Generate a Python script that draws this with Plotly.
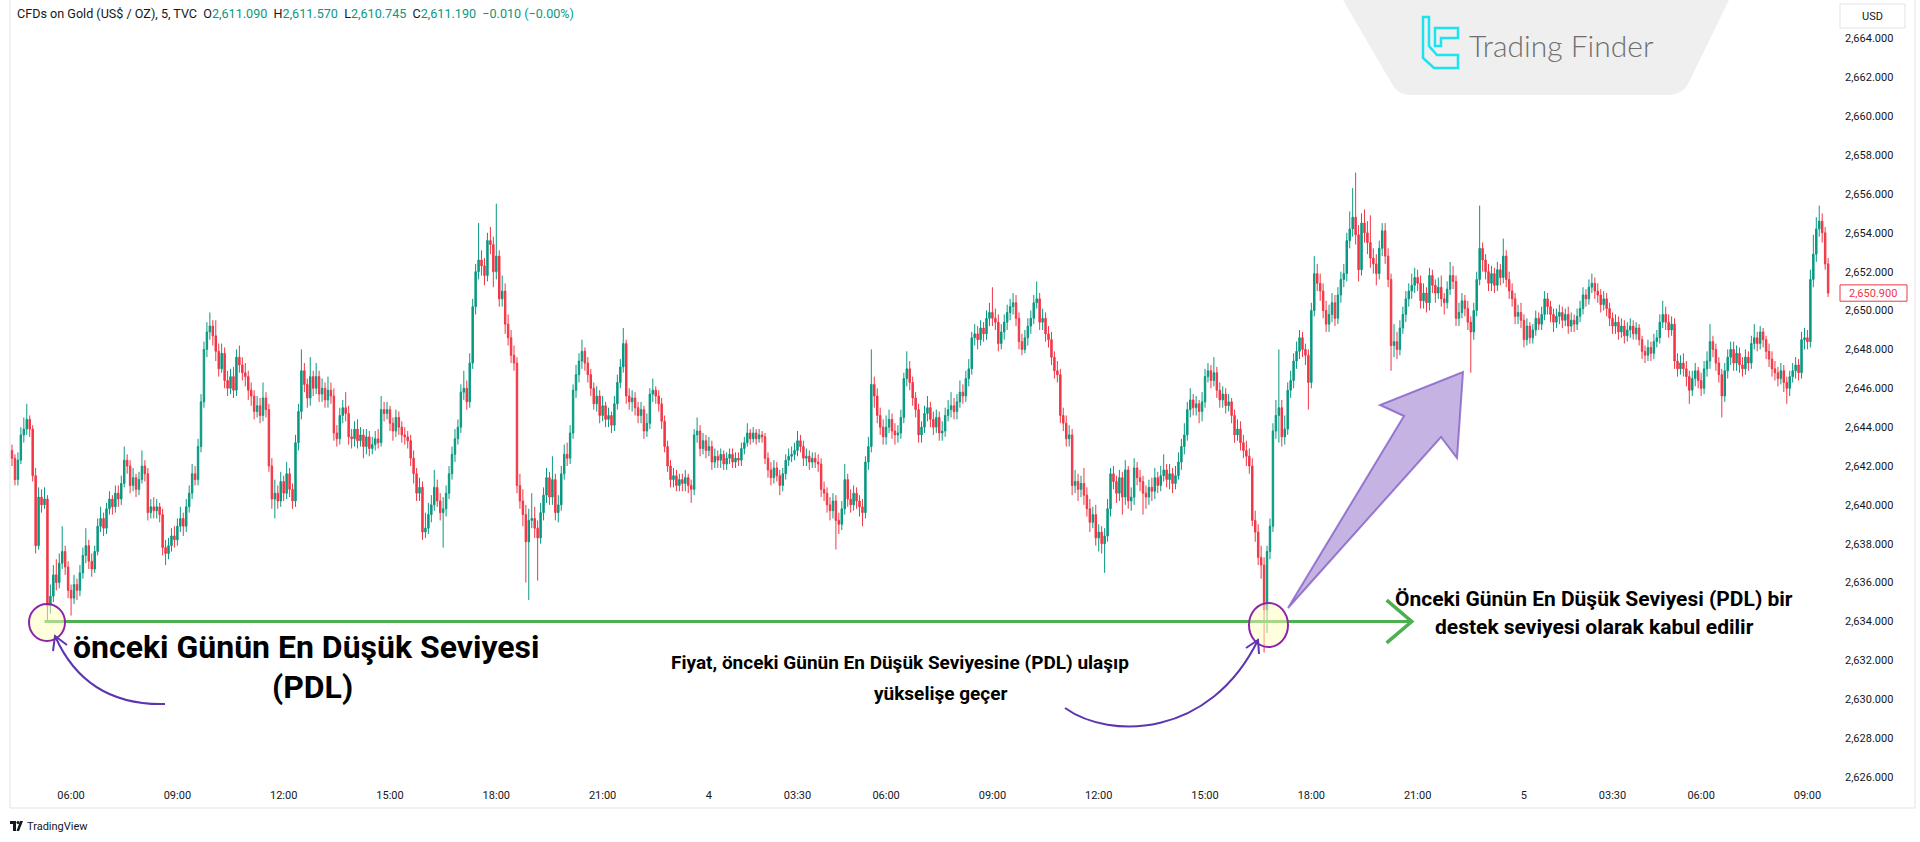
import plotly.graph_objects as go
import pandas as pd

# ---------------- data ----------------
# 5-minute sessions (daily break 01:00-02:00)
session_bounds = [("2024-12-03 04:20", "2024-12-04 00:55"),
                  ("2024-12-04 02:00", "2024-12-05 00:55"),
                  ("2024-12-05 02:00", "2024-12-05 09:35")]

opens = [
 2642.8, 2642.4, 2641.3, 2642.3, 2643.6, 2643.9, 2644.4, 2643.9, 2641.5, 2637.9, 2640.4, 2640.0,
 2640.3, 2634.8, 2635.3, 2636.4, 2636.0, 2637.0, 2637.6, 2636.8, 2635.6, 2635.2, 2635.9, 2635.6,
 2636.5, 2637.4, 2637.9, 2637.1, 2636.7, 2637.6, 2638.9, 2639.3, 2638.8, 2639.8, 2640.3, 2639.9,
 2640.6, 2640.3, 2641.1, 2642.3, 2642.0, 2641.0, 2641.4, 2640.8, 2641.3, 2642.0, 2641.6, 2639.6,
 2639.9, 2639.7, 2639.9, 2639.5, 2637.8, 2637.5, 2637.9, 2638.4, 2638.2, 2638.9, 2639.3, 2638.9,
 2639.9, 2640.6, 2641.6, 2641.3, 2643.0, 2645.3, 2648.0, 2648.9, 2649.2, 2648.7, 2647.9, 2647.0,
 2647.8, 2646.4, 2646.0, 2646.6, 2645.9, 2647.6, 2647.2, 2646.8, 2646.6, 2645.9, 2645.6, 2644.8,
 2645.1, 2644.6, 2645.5, 2644.9, 2642.0, 2640.3, 2640.6, 2640.2, 2641.2, 2640.6, 2641.6, 2640.8,
 2640.2, 2643.2, 2644.8, 2646.9, 2646.2, 2645.5, 2646.6, 2646.0, 2646.6, 2645.7, 2646.0, 2645.4,
 2645.9, 2645.6, 2643.7, 2643.4, 2644.6, 2645.0, 2644.7, 2643.5, 2643.4, 2643.9, 2643.3, 2643.6,
 2643.0, 2643.5, 2642.9, 2643.1, 2643.4, 2643.2, 2644.9, 2644.7, 2644.9, 2644.2, 2643.8, 2644.5,
 2644.0, 2643.6, 2643.5, 2643.3, 2642.4, 2641.6, 2640.6, 2640.9, 2638.6, 2638.8, 2639.5, 2640.0,
 2640.9, 2640.2, 2639.6, 2639.8, 2640.6, 2641.6, 2642.6, 2643.4, 2644.0, 2645.8, 2646.0, 2645.3,
 2647.3, 2650.2, 2652.0, 2652.6, 2652.3, 2651.8, 2653.6, 2653.4, 2652.0, 2652.8, 2650.6, 2651.0,
 2649.3, 2648.6, 2647.7, 2647.3, 2641.0, 2640.2, 2639.5, 2638.1, 2639.2, 2639.3, 2638.8, 2638.3,
 2639.6, 2640.5, 2641.4, 2640.4, 2641.3, 2639.6, 2640.0, 2641.6, 2642.6, 2642.4, 2643.7, 2645.9,
 2646.7, 2647.4, 2647.9, 2647.3, 2646.7, 2646.0, 2645.2, 2645.6, 2644.6, 2645.1, 2644.4, 2644.6,
 2644.1, 2645.2, 2646.3, 2647.1, 2648.3, 2645.6, 2645.3, 2645.5, 2645.0, 2644.6, 2644.9, 2643.8,
 2644.2, 2645.7, 2645.9, 2645.6, 2645.2, 2644.3, 2643.0, 2642.0, 2641.3, 2641.5, 2641.0, 2641.3,
 2641.1, 2641.4, 2641.0, 2640.8, 2643.6, 2643.8, 2642.9, 2643.3, 2642.8, 2643.0, 2642.2, 2642.5,
 2642.3, 2642.6, 2642.1, 2642.4, 2642.6, 2642.2, 2642.4, 2642.3,
 2642.9, 2643.2, 2643.7, 2643.4, 2643.7, 2643.4, 2643.6, 2643.5, 2642.4, 2641.8, 2641.4, 2641.9,
 2641.5, 2641.0, 2641.6, 2642.3, 2642.5, 2642.6, 2642.8, 2643.3, 2643.0, 2642.4, 2642.5, 2642.2,
 2642.4, 2642.2, 2642.1, 2640.8, 2640.6, 2640.0, 2639.7, 2640.2, 2639.2, 2639.0, 2639.8, 2641.3,
 2640.3, 2640.0, 2640.6, 2640.2, 2639.9, 2639.6, 2642.2, 2643.0, 2646.2, 2645.6, 2644.6, 2644.0,
 2643.5, 2644.0, 2644.4, 2643.8, 2643.6, 2643.7, 2644.5, 2646.5, 2647.0, 2646.3, 2645.5, 2644.9,
 2643.6, 2644.0, 2644.7, 2645.0, 2644.4, 2644.0, 2644.5, 2643.7, 2643.8, 2644.6, 2644.9, 2645.1,
 2644.8, 2645.3, 2645.8, 2645.6, 2646.5, 2647.0, 2648.6, 2648.8, 2648.5, 2649.1, 2648.8, 2649.6,
 2649.9, 2649.6, 2649.4, 2648.3, 2648.9, 2649.4, 2649.9, 2650.2, 2650.4, 2649.6, 2648.4, 2648.0,
 2648.6, 2649.2, 2649.6, 2650.4, 2650.6, 2649.4, 2649.6, 2648.8, 2648.5, 2647.6, 2646.9, 2646.7,
 2644.6, 2644.2, 2643.4, 2643.6, 2641.0, 2641.2, 2640.8, 2641.1, 2640.5, 2639.8, 2639.1, 2639.5,
 2638.3, 2638.6, 2638.0, 2638.4, 2639.8, 2641.6, 2641.2, 2640.6, 2641.4, 2640.4, 2641.8, 2640.2,
 2640.4, 2641.9, 2641.4, 2641.2, 2640.6, 2640.4, 2640.9, 2640.7, 2641.4, 2641.0, 2641.5, 2641.8,
 2641.3, 2641.6, 2641.1, 2641.5, 2642.2, 2643.0, 2643.6, 2644.9, 2645.4, 2645.0, 2645.2, 2644.8,
 2645.3, 2646.6, 2646.9, 2646.4, 2646.8, 2645.9, 2645.4, 2645.7, 2645.1, 2645.3, 2644.6, 2643.6,
 2643.9, 2643.2, 2642.8, 2642.5, 2642.0, 2639.2, 2638.6, 2637.3, 2636.9, 2634.6, 2637.6, 2638.9,
 2643.8, 2644.6, 2645.0, 2643.5, 2643.9, 2645.9, 2646.4, 2647.4, 2647.9, 2648.6, 2648.0, 2647.7,
 2646.3, 2650.0, 2651.9, 2651.4, 2651.0, 2650.0, 2649.3, 2649.8, 2650.4, 2649.6, 2650.8, 2651.6,
 2651.9, 2653.6, 2654.2, 2654.8, 2653.9, 2652.1, 2654.5, 2654.0, 2653.5, 2652.7, 2652.4, 2651.9,
 2653.2, 2654.1, 2652.8, 2651.6, 2648.2, 2648.4, 2648.0, 2649.1, 2649.8, 2650.6, 2651.0, 2651.3,
 2651.7, 2651.4, 2650.5, 2650.9, 2650.4, 2651.8, 2651.3, 2650.9, 2651.2, 2650.6, 2650.4, 2651.1,
 2651.8, 2651.5, 2649.6, 2649.9, 2650.5, 2650.1, 2649.4, 2648.9, 2650.0, 2651.6, 2653.2, 2652.6,
 2652.0, 2651.4, 2651.9, 2651.3, 2652.1, 2651.7, 2652.8, 2651.6, 2651.0, 2650.6, 2649.7, 2649.9,
 2649.5, 2648.5, 2649.2, 2648.6, 2649.0, 2649.6, 2649.3, 2649.8, 2650.6, 2650.2, 2649.8, 2649.4,
 2649.7, 2649.9, 2649.5, 2649.8, 2649.2, 2649.5, 2649.3, 2649.7, 2650.1, 2650.8, 2650.6, 2651.2,
 2651.4, 2651.0, 2650.8, 2650.3, 2650.6, 2650.1, 2649.6, 2649.2, 2649.4, 2648.9, 2649.2, 2648.7,
 2649.0, 2649.2, 2648.8, 2649.1, 2648.5, 2647.9, 2647.7, 2648.1, 2647.8, 2648.4, 2648.6, 2649.4,
 2649.8, 2649.4, 2649.0, 2649.3, 2647.4, 2647.0, 2647.3, 2647.0, 2646.6, 2645.9, 2646.5, 2646.9,
 2646.4, 2646.0, 2647.0, 2647.4, 2648.4, 2648.0, 2647.3, 2646.7, 2645.6, 2646.9, 2647.6, 2648.0,
 2647.3, 2647.8, 2647.2, 2647.0, 2647.6, 2647.3, 2648.3, 2648.6, 2648.3, 2648.9, 2648.5, 2647.9,
 2647.5, 2647.0, 2646.8, 2646.5, 2646.9, 2646.3, 2646.0, 2646.6, 2646.9, 2647.2, 2646.8, 2648.5,
 2648.6, 2648.4, 2651.6, 2652.9, 2654.2, 2654.6, 2654.0, 2652.4,
]

highs = [
 2643.1, 2642.6, 2642.7, 2644.0, 2644.5, 2645.2, 2644.6, 2644.1, 2641.9, 2640.9, 2640.8, 2640.9,
 2640.5, 2635.9, 2636.9, 2637.2, 2637.5, 2638.9, 2637.9, 2637.1, 2635.9, 2636.4, 2636.2, 2636.9,
 2637.8, 2638.8, 2638.2, 2637.5, 2637.9, 2639.3, 2639.9, 2639.6, 2640.1, 2640.7, 2640.5, 2641.0,
 2641.0, 2641.5, 2643.0, 2642.6, 2642.3, 2641.9, 2641.6, 2641.7, 2642.8, 2642.3, 2641.9, 2640.3,
 2640.4, 2640.3, 2640.1, 2639.8, 2638.2, 2638.3, 2638.8, 2638.9, 2639.3, 2639.9, 2639.6, 2640.3,
 2641.0, 2642.1, 2642.0, 2643.4, 2645.7, 2648.4, 2649.4, 2649.9, 2649.5, 2649.5, 2648.3, 2648.3,
 2648.1, 2646.9, 2647.0, 2647.1, 2648.0, 2648.2, 2647.6, 2647.3, 2646.9, 2646.3, 2645.9, 2645.6,
 2645.5, 2646.3, 2645.8, 2645.2, 2642.4, 2641.3, 2641.0, 2641.7, 2641.5, 2642.2, 2641.9, 2641.1,
 2643.6, 2645.2, 2648.0, 2647.3, 2646.5, 2647.6, 2646.9, 2647.3, 2646.9, 2646.5, 2646.3, 2646.6,
 2646.3, 2646.0, 2644.1, 2645.0, 2645.4, 2645.8, 2645.1, 2643.9, 2644.3, 2644.4, 2644.0, 2643.9,
 2643.9, 2643.8, 2643.5, 2643.8, 2643.9, 2645.6, 2645.3, 2645.3, 2645.1, 2644.5, 2644.9, 2644.8,
 2644.3, 2644.0, 2643.8, 2643.6, 2642.8, 2641.9, 2641.4, 2641.2, 2639.6, 2640.1, 2640.5, 2641.8,
 2641.3, 2640.6, 2640.4, 2641.0, 2642.0, 2643.0, 2643.9, 2644.4, 2646.2, 2646.9, 2646.4, 2647.8,
 2650.6, 2652.4, 2654.5, 2653.1, 2652.7, 2654.0, 2654.3, 2653.8, 2655.5, 2653.1, 2651.8, 2651.4,
 2649.8, 2649.0, 2648.2, 2647.6, 2641.6, 2640.8, 2640.0, 2639.8, 2640.6, 2639.9, 2639.2, 2640.1,
 2640.9, 2641.9, 2641.7, 2642.5, 2641.6, 2640.5, 2642.0, 2643.1, 2643.2, 2644.1, 2646.2, 2647.2,
 2647.8, 2648.5, 2648.1, 2647.6, 2647.0, 2646.3, 2646.1, 2645.9, 2645.6, 2645.3, 2645.0, 2644.8,
 2645.6, 2646.7, 2647.5, 2649.1, 2648.5, 2646.0, 2645.9, 2645.8, 2645.3, 2645.3, 2645.1, 2644.7,
 2646.0, 2646.5, 2646.1, 2645.9, 2645.5, 2644.6, 2643.3, 2642.3, 2641.9, 2641.8, 2641.6, 2641.6,
 2641.8, 2641.6, 2641.3, 2643.9, 2644.5, 2644.1, 2643.7, 2643.6, 2643.5, 2643.3, 2642.9, 2642.8,
 2642.9, 2642.8, 2642.7, 2642.9, 2642.9, 2642.7, 2642.7, 2643.2,
 2643.5, 2644.2, 2643.9, 2644.0, 2643.9, 2643.9, 2643.8, 2643.7, 2642.7, 2642.2, 2642.3, 2642.2,
 2641.8, 2641.9, 2642.6, 2642.9, 2643.0, 2643.2, 2643.8, 2643.6, 2643.3, 2642.9, 2642.8, 2642.7,
 2642.7, 2642.6, 2642.4, 2641.2, 2640.9, 2640.4, 2640.6, 2640.5, 2639.6, 2640.2, 2642.1, 2641.6,
 2640.8, 2641.0, 2640.9, 2640.5, 2640.3, 2642.5, 2643.5, 2648.0, 2646.6, 2646.0, 2645.0, 2644.4,
 2644.6, 2644.9, 2644.7, 2644.2, 2644.1, 2644.9, 2646.8, 2647.9, 2647.4, 2646.6, 2645.8, 2645.2,
 2644.3, 2645.1, 2645.6, 2645.3, 2644.8, 2644.9, 2644.8, 2644.3, 2645.0, 2645.4, 2645.8, 2645.5,
 2645.7, 2646.4, 2646.2, 2646.9, 2647.5, 2648.9, 2649.3, 2649.2, 2649.5, 2649.4, 2650.0, 2650.4,
 2651.2, 2650.1, 2649.8, 2649.3, 2649.8, 2650.3, 2650.6, 2650.9, 2650.8, 2649.9, 2648.8, 2649.0,
 2649.6, 2650.0, 2650.8, 2651.5, 2650.9, 2650.1, 2649.9, 2649.2, 2648.9, 2647.9, 2647.4, 2647.0,
 2645.0, 2644.6, 2644.1, 2643.9, 2641.8, 2641.6, 2641.5, 2641.9, 2640.9, 2640.3, 2639.9, 2640.0,
 2639.0, 2638.9, 2638.8, 2640.3, 2641.9, 2642.0, 2641.5, 2641.8, 2641.7, 2642.3, 2642.0, 2640.9,
 2642.4, 2642.2, 2641.8, 2641.5, 2641.0, 2641.3, 2641.4, 2641.9, 2641.7, 2642.0, 2642.6, 2642.1,
 2642.1, 2641.9, 2642.0, 2642.7, 2643.4, 2644.2, 2645.3, 2646.0, 2645.7, 2645.6, 2645.4, 2645.8,
 2647.0, 2647.3, 2647.2, 2647.6, 2647.1, 2646.3, 2646.1, 2646.0, 2645.7, 2645.5, 2644.9, 2644.4,
 2644.3, 2643.6, 2643.3, 2642.9, 2642.4, 2639.7, 2639.0, 2637.9, 2637.3, 2637.9, 2639.3, 2644.2,
 2645.4, 2648.0, 2645.4, 2644.6, 2646.3, 2646.9, 2647.8, 2648.4, 2649.0, 2648.9, 2648.3, 2648.0,
 2650.4, 2652.8, 2652.4, 2651.9, 2651.4, 2650.5, 2650.3, 2650.9, 2650.8, 2651.2, 2652.0, 2652.4,
 2654.0, 2655.1, 2656.3, 2657.1, 2654.4, 2655.0, 2655.2, 2654.6, 2654.9, 2653.2, 2652.9, 2653.6,
 2654.5, 2654.5, 2653.2, 2651.9, 2649.3, 2648.9, 2649.5, 2650.2, 2651.0, 2651.4, 2651.9, 2652.2,
 2652.1, 2651.8, 2651.4, 2651.2, 2652.2, 2652.1, 2651.6, 2651.7, 2651.8, 2650.9, 2651.5, 2652.5,
 2652.3, 2651.8, 2650.4, 2650.9, 2650.8, 2650.5, 2649.7, 2650.4, 2652.0, 2655.4, 2653.5, 2652.9,
 2652.4, 2652.3, 2652.2, 2652.5, 2652.4, 2653.7, 2653.1, 2652.0, 2651.4, 2650.9, 2650.3, 2650.4,
 2649.8, 2649.6, 2649.4, 2649.3, 2650.0, 2649.9, 2650.2, 2651.0, 2650.9, 2650.5, 2650.1, 2650.1,
 2650.3, 2650.2, 2650.1, 2650.2, 2649.9, 2649.8, 2650.1, 2650.5, 2651.2, 2651.1, 2651.6, 2651.9,
 2651.7, 2651.4, 2651.1, 2651.0, 2650.9, 2650.4, 2649.9, 2649.8, 2649.7, 2649.6, 2649.5, 2649.4,
 2649.6, 2649.5, 2649.4, 2649.3, 2648.7, 2648.2, 2648.5, 2648.4, 2648.8, 2649.0, 2649.8, 2650.5,
 2650.2, 2649.8, 2649.7, 2649.6, 2647.8, 2647.7, 2647.8, 2647.4, 2646.9, 2646.9, 2647.3, 2647.1,
 2646.8, 2647.4, 2647.9, 2649.3, 2648.7, 2648.3, 2647.6, 2647.0, 2647.3, 2648.0, 2648.4, 2648.4,
 2648.2, 2648.1, 2647.6, 2648.0, 2647.9, 2648.7, 2649.3, 2648.9, 2649.2, 2649.1, 2648.7, 2648.3,
 2647.9, 2647.4, 2647.1, 2647.3, 2647.2, 2646.6, 2646.9, 2647.3, 2647.6, 2647.5, 2648.9, 2649.1,
 2649.0, 2652.1, 2653.9, 2654.8, 2655.4, 2655.0, 2654.3, 2652.7,
]

lows = [
 2642.0, 2641.0, 2641.0, 2642.1, 2643.2, 2643.6, 2643.5, 2641.2, 2637.5, 2637.7, 2639.6, 2639.8,
 2634.0, 2634.4, 2635.0, 2635.6, 2635.7, 2636.7, 2636.4, 2635.2, 2634.3, 2634.9, 2635.1, 2635.3,
 2636.2, 2637.0, 2636.7, 2636.3, 2636.5, 2637.4, 2638.6, 2638.4, 2638.5, 2639.5, 2639.5, 2639.6,
 2639.9, 2640.0, 2640.9, 2641.6, 2640.6, 2640.7, 2640.4, 2640.5, 2641.1, 2641.2, 2639.2, 2639.3,
 2639.3, 2639.3, 2639.1, 2637.4, 2636.9, 2637.2, 2637.6, 2637.8, 2637.9, 2638.6, 2638.4, 2638.6,
 2639.6, 2640.3, 2641.0, 2641.0, 2642.7, 2645.0, 2647.6, 2648.5, 2648.2, 2647.4, 2646.6, 2646.8,
 2646.0, 2645.6, 2645.7, 2645.5, 2645.6, 2646.8, 2646.4, 2646.1, 2645.4, 2645.1, 2644.4, 2644.5,
 2644.2, 2644.3, 2644.5, 2641.7, 2639.8, 2639.3, 2639.8, 2639.9, 2640.2, 2640.3, 2640.4, 2639.8,
 2639.9, 2642.8, 2644.4, 2645.8, 2645.0, 2645.1, 2645.6, 2645.7, 2645.3, 2645.3, 2645.0, 2645.0,
 2645.2, 2643.3, 2643.0, 2643.1, 2644.2, 2644.3, 2643.1, 2642.9, 2643.0, 2642.9, 2643.0, 2642.4,
 2642.6, 2642.5, 2642.6, 2642.8, 2642.9, 2643.0, 2644.3, 2644.4, 2643.8, 2643.3, 2643.5, 2643.6,
 2643.2, 2643.1, 2642.9, 2642.0, 2641.1, 2640.2, 2640.2, 2638.2, 2638.3, 2638.5, 2639.1, 2639.7,
 2639.9, 2639.2, 2637.8, 2639.4, 2640.3, 2641.3, 2642.2, 2643.1, 2643.7, 2645.4, 2644.9, 2645.0,
 2647.0, 2649.8, 2651.6, 2651.8, 2651.3, 2651.5, 2652.9, 2651.2, 2651.6, 2650.2, 2650.2, 2648.8,
 2648.2, 2647.3, 2646.9, 2640.6, 2639.8, 2638.9, 2636.0, 2635.1, 2638.8, 2638.3, 2636.1, 2638.0,
 2639.2, 2640.1, 2640.0, 2640.0, 2639.2, 2639.1, 2639.7, 2641.3, 2642.0, 2642.1, 2643.4, 2645.5,
 2646.3, 2647.0, 2646.9, 2646.3, 2645.6, 2644.9, 2644.8, 2644.2, 2644.3, 2644.0, 2644.0, 2643.7,
 2643.8, 2644.9, 2646.0, 2646.8, 2645.2, 2644.9, 2644.8, 2644.6, 2644.2, 2644.2, 2643.4, 2643.5,
 2643.9, 2645.3, 2645.2, 2644.8, 2643.9, 2642.7, 2641.7, 2640.9, 2640.9, 2640.7, 2640.7, 2640.7,
 2640.7, 2640.6, 2640.1, 2640.5, 2643.2, 2642.5, 2642.6, 2642.4, 2642.5, 2641.8, 2641.9, 2641.9,
 2641.9, 2641.8, 2641.8, 2642.1, 2641.9, 2641.9, 2642.0, 2642.0,
 2642.6, 2643.0, 2643.1, 2643.2, 2643.1, 2643.2, 2643.2, 2642.1, 2641.4, 2641.0, 2641.1, 2641.2,
 2640.5, 2640.7, 2641.3, 2642.0, 2642.2, 2642.3, 2642.5, 2642.7, 2642.0, 2642.0, 2641.8, 2641.9,
 2641.9, 2641.7, 2640.4, 2640.2, 2639.6, 2639.2, 2639.3, 2637.7, 2638.5, 2638.7, 2639.5, 2639.9,
 2639.6, 2639.7, 2639.8, 2639.4, 2638.9, 2639.3, 2641.8, 2642.7, 2645.0, 2644.2, 2643.6, 2643.1,
 2643.1, 2643.7, 2643.4, 2643.1, 2643.2, 2643.4, 2644.2, 2646.1, 2645.9, 2645.1, 2644.5, 2643.2,
 2643.2, 2643.7, 2644.3, 2644.0, 2643.6, 2643.7, 2643.3, 2643.3, 2643.5, 2644.3, 2644.5, 2644.4,
 2644.4, 2645.0, 2645.2, 2645.3, 2646.1, 2646.7, 2648.2, 2648.0, 2648.2, 2648.4, 2648.5, 2649.2,
 2649.2, 2649.0, 2647.9, 2648.0, 2648.5, 2649.0, 2649.5, 2649.8, 2649.2, 2648.0, 2647.7, 2647.8,
 2648.2, 2648.8, 2649.3, 2650.1, 2649.0, 2649.0, 2648.4, 2648.1, 2647.2, 2646.5, 2646.3, 2644.2,
 2643.8, 2643.0, 2643.0, 2640.5, 2640.6, 2640.2, 2640.4, 2640.0, 2639.4, 2638.6, 2638.8, 2637.9,
 2637.6, 2637.5, 2636.5, 2638.1, 2639.4, 2640.8, 2640.1, 2640.2, 2639.5, 2640.0, 2639.8, 2639.7,
 2640.0, 2641.0, 2640.7, 2639.5, 2639.8, 2640.0, 2640.2, 2640.3, 2640.6, 2640.7, 2641.2, 2640.9,
 2640.8, 2640.6, 2640.8, 2641.3, 2641.8, 2642.6, 2643.3, 2644.5, 2644.6, 2644.6, 2644.2, 2644.3,
 2645.0, 2646.3, 2646.0, 2646.1, 2645.5, 2645.0, 2645.0, 2644.7, 2644.8, 2644.2, 2643.2, 2643.3,
 2642.8, 2642.4, 2642.0, 2641.6, 2638.9, 2638.1, 2636.9, 2636.2, 2632.4, 2633.4, 2637.2, 2638.6,
 2643.4, 2643.2, 2643.0, 2643.1, 2643.6, 2645.5, 2646.0, 2647.0, 2647.5, 2647.6, 2647.2, 2644.9,
 2646.0, 2649.7, 2651.0, 2650.5, 2649.6, 2648.9, 2648.9, 2649.4, 2649.2, 2649.3, 2650.4, 2651.2,
 2651.5, 2653.2, 2653.8, 2653.4, 2651.5, 2651.8, 2653.5, 2652.9, 2652.2, 2651.9, 2651.3, 2651.6,
 2652.8, 2652.4, 2651.2, 2646.9, 2647.6, 2647.5, 2647.7, 2648.8, 2649.4, 2650.2, 2650.6, 2650.9,
 2651.0, 2650.1, 2650.1, 2649.9, 2650.0, 2650.9, 2650.4, 2650.6, 2650.2, 2649.8, 2650.1, 2650.8,
 2651.1, 2649.2, 2649.2, 2649.6, 2649.7, 2649.0, 2646.8, 2648.5, 2649.7, 2651.3, 2652.0, 2651.6,
 2651.0, 2651.0, 2650.9, 2651.0, 2651.3, 2651.4, 2651.2, 2650.6, 2650.2, 2649.3, 2649.3, 2649.1,
 2648.1, 2648.2, 2648.3, 2648.3, 2648.7, 2649.0, 2649.0, 2649.5, 2649.8, 2649.4, 2648.9, 2649.1,
 2649.3, 2649.1, 2649.2, 2648.8, 2648.9, 2648.9, 2649.0, 2649.4, 2649.8, 2650.2, 2650.3, 2650.9,
 2650.6, 2650.4, 2649.9, 2650.0, 2649.7, 2649.2, 2648.8, 2648.8, 2648.5, 2648.6, 2648.3, 2648.4,
 2648.6, 2648.5, 2648.5, 2648.2, 2647.5, 2647.3, 2647.4, 2647.4, 2647.5, 2648.1, 2648.3, 2649.1,
 2649.0, 2648.6, 2648.7, 2647.0, 2646.6, 2646.7, 2646.6, 2646.1, 2645.2, 2645.6, 2646.1, 2646.0,
 2645.6, 2645.7, 2646.6, 2647.0, 2647.6, 2646.9, 2646.3, 2644.5, 2645.3, 2646.5, 2647.2, 2646.9,
 2646.9, 2646.8, 2646.6, 2646.7, 2646.9, 2647.0, 2648.0, 2647.9, 2648.0, 2648.1, 2647.5, 2647.1,
 2646.6, 2646.4, 2646.1, 2646.2, 2645.8, 2645.2, 2645.6, 2646.3, 2646.5, 2646.4, 2646.5, 2648.0,
 2648.0, 2648.1, 2651.2, 2652.5, 2653.8, 2653.5, 2652.1, 2650.7,
]

closes = [
 2642.4, 2641.3, 2642.3, 2643.6, 2643.9, 2644.4, 2643.9, 2641.5, 2637.9, 2640.4, 2640.0, 2640.3,
 2634.8, 2635.3, 2636.4, 2636.0, 2637.0, 2637.6, 2636.8, 2635.6, 2635.2, 2635.9, 2635.6, 2636.5,
 2637.4, 2637.9, 2637.1, 2636.7, 2637.6, 2638.9, 2639.3, 2638.8, 2639.8, 2640.3, 2639.9, 2640.6,
 2640.3, 2641.1, 2642.3, 2642.0, 2641.0, 2641.4, 2640.8, 2641.3, 2642.0, 2641.6, 2639.6, 2639.9,
 2639.7, 2639.9, 2639.5, 2637.8, 2637.5, 2637.9, 2638.4, 2638.2, 2638.9, 2639.3, 2638.9, 2639.9,
 2640.6, 2641.6, 2641.3, 2643.0, 2645.3, 2648.0, 2648.9, 2649.2, 2648.7, 2647.9, 2647.0, 2647.8,
 2646.4, 2646.0, 2646.6, 2645.9, 2647.6, 2647.2, 2646.8, 2646.6, 2645.9, 2645.6, 2644.8, 2645.1,
 2644.6, 2645.5, 2644.9, 2642.0, 2640.3, 2640.6, 2640.2, 2641.2, 2640.6, 2641.6, 2640.8, 2640.2,
 2643.2, 2644.8, 2646.9, 2646.2, 2645.5, 2646.6, 2646.0, 2646.6, 2645.7, 2646.0, 2645.4, 2645.9,
 2645.6, 2643.7, 2643.4, 2644.6, 2645.0, 2644.7, 2643.5, 2643.4, 2643.9, 2643.3, 2643.6, 2643.0,
 2643.5, 2642.9, 2643.1, 2643.4, 2643.2, 2644.9, 2644.7, 2644.9, 2644.2, 2643.8, 2644.5, 2644.0,
 2643.6, 2643.5, 2643.3, 2642.4, 2641.6, 2640.6, 2640.9, 2638.6, 2638.8, 2639.5, 2640.0, 2640.9,
 2640.2, 2639.6, 2639.8, 2640.6, 2641.6, 2642.6, 2643.4, 2644.0, 2645.8, 2646.0, 2645.3, 2647.3,
 2650.2, 2652.0, 2652.6, 2652.3, 2651.8, 2653.6, 2653.4, 2652.0, 2652.8, 2650.6, 2651.0, 2649.3,
 2648.6, 2647.7, 2647.3, 2641.0, 2640.2, 2639.5, 2638.1, 2639.2, 2639.3, 2638.8, 2638.3, 2639.6,
 2640.5, 2641.4, 2640.4, 2641.3, 2639.6, 2640.0, 2641.6, 2642.6, 2642.4, 2643.7, 2645.9, 2646.7,
 2647.4, 2647.9, 2647.3, 2646.7, 2646.0, 2645.2, 2645.6, 2644.6, 2645.1, 2644.4, 2644.6, 2644.1,
 2645.2, 2646.3, 2647.1, 2648.3, 2645.6, 2645.3, 2645.5, 2645.0, 2644.6, 2644.9, 2643.8, 2644.2,
 2645.7, 2645.9, 2645.6, 2645.2, 2644.3, 2643.0, 2642.0, 2641.3, 2641.5, 2641.0, 2641.3, 2641.1,
 2641.4, 2641.0, 2640.8, 2643.6, 2643.8, 2642.9, 2643.3, 2642.8, 2643.0, 2642.2, 2642.5, 2642.3,
 2642.6, 2642.1, 2642.4, 2642.6, 2642.2, 2642.4, 2642.3, 2642.9,
 2643.2, 2643.7, 2643.4, 2643.7, 2643.4, 2643.6, 2643.5, 2642.4, 2641.8, 2641.4, 2641.9, 2641.5,
 2641.0, 2641.6, 2642.3, 2642.5, 2642.6, 2642.8, 2643.3, 2643.0, 2642.4, 2642.5, 2642.2, 2642.4,
 2642.2, 2642.1, 2640.8, 2640.6, 2640.0, 2639.7, 2640.2, 2639.2, 2639.0, 2639.8, 2641.3, 2640.3,
 2640.0, 2640.6, 2640.2, 2639.9, 2639.6, 2642.2, 2643.0, 2646.2, 2645.6, 2644.6, 2644.0, 2643.5,
 2644.0, 2644.4, 2643.8, 2643.6, 2643.7, 2644.5, 2646.5, 2647.0, 2646.3, 2645.5, 2644.9, 2643.6,
 2644.0, 2644.7, 2645.0, 2644.4, 2644.0, 2644.5, 2643.7, 2643.8, 2644.6, 2644.9, 2645.1, 2644.8,
 2645.3, 2645.8, 2645.6, 2646.5, 2647.0, 2648.6, 2648.8, 2648.5, 2649.1, 2648.8, 2649.6, 2649.9,
 2649.6, 2649.4, 2648.3, 2648.9, 2649.4, 2649.9, 2650.2, 2650.4, 2649.6, 2648.4, 2648.0, 2648.6,
 2649.2, 2649.6, 2650.4, 2650.6, 2649.4, 2649.6, 2648.8, 2648.5, 2647.6, 2646.9, 2646.7, 2644.6,
 2644.2, 2643.4, 2643.6, 2641.0, 2641.2, 2640.8, 2641.1, 2640.5, 2639.8, 2639.1, 2639.5, 2638.3,
 2638.6, 2638.0, 2638.4, 2639.8, 2641.6, 2641.2, 2640.6, 2641.4, 2640.4, 2641.8, 2640.2, 2640.4,
 2641.9, 2641.4, 2641.2, 2640.6, 2640.4, 2640.9, 2640.7, 2641.4, 2641.0, 2641.5, 2641.8, 2641.3,
 2641.6, 2641.1, 2641.5, 2642.2, 2643.0, 2643.6, 2644.9, 2645.4, 2645.0, 2645.2, 2644.8, 2645.3,
 2646.6, 2646.9, 2646.4, 2646.8, 2645.9, 2645.4, 2645.7, 2645.1, 2645.3, 2644.6, 2643.6, 2643.9,
 2643.2, 2642.8, 2642.5, 2642.0, 2639.2, 2638.6, 2637.3, 2636.9, 2634.6, 2637.6, 2638.9, 2643.8,
 2644.6, 2645.0, 2643.5, 2643.9, 2645.9, 2646.4, 2647.4, 2647.9, 2648.6, 2648.0, 2647.7, 2646.3,
 2650.0, 2651.9, 2651.4, 2651.0, 2650.0, 2649.3, 2649.8, 2650.4, 2649.6, 2650.8, 2651.6, 2651.9,
 2653.6, 2654.2, 2654.8, 2653.9, 2652.1, 2654.5, 2654.0, 2653.5, 2652.7, 2652.4, 2651.9, 2653.2,
 2654.1, 2652.8, 2651.6, 2648.2, 2648.4, 2648.0, 2649.1, 2649.8, 2650.6, 2651.0, 2651.3, 2651.7,
 2651.4, 2650.5, 2650.9, 2650.4, 2651.8, 2651.3, 2650.9, 2651.2, 2650.6, 2650.4, 2651.1, 2651.8,
 2651.5, 2649.6, 2649.9, 2650.5, 2650.1, 2649.4, 2648.9, 2650.0, 2651.6, 2653.2, 2652.6, 2652.0,
 2651.4, 2651.9, 2651.3, 2652.1, 2651.7, 2652.8, 2651.6, 2651.0, 2650.6, 2649.7, 2649.9, 2649.5,
 2648.5, 2649.2, 2648.6, 2649.0, 2649.6, 2649.3, 2649.8, 2650.6, 2650.2, 2649.8, 2649.4, 2649.7,
 2649.9, 2649.5, 2649.8, 2649.2, 2649.5, 2649.3, 2649.7, 2650.1, 2650.8, 2650.6, 2651.2, 2651.4,
 2651.0, 2650.8, 2650.3, 2650.6, 2650.1, 2649.6, 2649.2, 2649.4, 2648.9, 2649.2, 2648.7, 2649.0,
 2649.2, 2648.8, 2649.1, 2648.5, 2647.9, 2647.7, 2648.1, 2647.8, 2648.4, 2648.6, 2649.4, 2649.8,
 2649.4, 2649.0, 2649.3, 2647.4, 2647.0, 2647.3, 2647.0, 2646.6, 2645.9, 2646.5, 2646.9, 2646.4,
 2646.0, 2647.0, 2647.4, 2648.4, 2648.0, 2647.3, 2646.7, 2645.6, 2646.9, 2647.6, 2648.0, 2647.3,
 2647.8, 2647.2, 2647.0, 2647.6, 2647.3, 2648.3, 2648.6, 2648.3, 2648.9, 2648.5, 2647.9, 2647.5,
 2647.0, 2646.8, 2646.5, 2646.9, 2646.3, 2646.0, 2646.6, 2646.9, 2647.2, 2646.8, 2648.5, 2648.6,
 2648.4, 2651.6, 2652.9, 2654.2, 2654.6, 2654.0, 2652.4, 2650.9,
]

tick_times = ["2024-12-03 06:00", "2024-12-03 09:00", "2024-12-03 12:00", "2024-12-03 15:00",
              "2024-12-03 18:00", "2024-12-03 21:00", "2024-12-04 00:00", "2024-12-04 03:30",
              "2024-12-04 06:00", "2024-12-04 09:00", "2024-12-04 12:00", "2024-12-04 15:00",
              "2024-12-04 18:00", "2024-12-04 21:00", "2024-12-05 00:00", "2024-12-05 03:30",
              "2024-12-05 06:00", "2024-12-05 09:00"]
tick_labels = ["06:00", "09:00", "12:00", "15:00", "18:00", "21:00", "4", "03:30",
               "06:00", "09:00", "12:00", "15:00", "18:00", "21:00", "5", "03:30",
               "06:00", "09:00"]
price_ticks = [2626, 2628, 2630, 2632, 2634, 2636, 2638, 2640, 2642, 2644,
               2646, 2648, 2650, 2652, 2654, 2656, 2658, 2660, 2662, 2664]
last_price = 2650.9
pdl_level = 2634.0
pdl_index = 12
arrow_end_index = 474

# ---------------- build ----------------
times = pd.DatetimeIndex([])
for a, b in session_bounds:
    times = times.append(pd.date_range(a, b, freq="5min"))
n = len(times)
if not (len(opens) == len(highs) == len(lows) == len(closes) == n):
    raise SystemExit(f"length mismatch: {n} {len(opens)} {len(highs)} {len(lows)} {len(closes)}")
idx = list(range(n))
tickvals = [int(times.get_loc(pd.Timestamp(t))) for t in tick_times]

UP, DN = "#089981", "#F23645"
TXT = "#131722"

# canvas geometry (pixels)
FW, FH = 1920, 842
L, R, T, B = 10, 1838, 0, 781
W, H = R - L, B - T

def px(x):
    return (x - L) / W

def py(y):
    return (B - y) / H

def pth(points, close=True):
    s = "M " + " L ".join(f"{px(x):.5f},{py(y):.5f}" for x, y in points)
    return s + (" Z" if close else "")

fig = go.Figure(go.Candlestick(
    x=idx, open=opens, high=highs, low=lows, close=closes,
    increasing=dict(line=dict(color=UP, width=1), fillcolor=UP),
    decreasing=dict(line=dict(color=DN, width=1), fillcolor=DN),
    whiskerwidth=0, showlegend=False, hoverinfo="skip"))

shapes = []
# frame lines
shapes.append(dict(type="line", xref="paper", yref="paper", x0=px(10), x1=px(10), y0=py(0), y1=py(808),
                   line=dict(color="#e0e3eb", width=1)))
shapes.append(dict(type="line", xref="paper", yref="paper", x0=px(10), x1=px(1915), y0=py(808), y1=py(808),
                   line=dict(color="#e0e3eb", width=1)))
shapes.append(dict(type="line", xref="paper", yref="paper", x0=px(1915), x1=px(1915), y0=py(0), y1=py(808),
                   line=dict(color="#e0e3eb", width=1)))
# watermark panel
shapes.append(dict(type="path", xref="paper", yref="paper", layer="below",
                   path="M {a},{b} L {c},{b} L {d},{e} Q {f},{g} {h},{g} L {i},{g} Q {j},{g} {k},{e} Z".format(
                       a=f"{px(1343):.5f}", b=f"{py(0):.5f}", c=f"{px(1729):.5f}", d=f"{px(1688):.5f}",
                       e=f"{py(84):.5f}", f=f"{px(1682):.5f}", g=f"{py(95):.5f}", h=f"{px(1668):.5f}",
                       i=f"{px(1410):.5f}", j=f"{px(1398):.5f}", k=f"{px(1392):.5f}"),
                   fillcolor="#efefef", line=dict(width=0)))
# Trading Finder logo (cyan outline)
shapes.append(dict(type="path", xref="paper", yref="paper",
                   path=pth([(1423, 17), (1429, 17), (1429, 46), (1437, 55), (1458, 55), (1458, 68),
                             (1434, 68), (1423, 58)]),
                   fillcolor="rgba(0,0,0,0)", line=dict(color="#1de2ef", width=2.5)))
shapes.append(dict(type="path", xref="paper", yref="paper",
                   path=pth([(1435, 28), (1458, 28), (1458, 38), (1441, 38), (1441, 46), (1435, 46)]),
                   fillcolor="rgba(0,0,0,0)", line=dict(color="#1de2ef", width=2.5)))
# USD box
shapes.append(dict(type="rect", xref="paper", yref="paper", x0=px(1840), x1=px(1905), y0=py(4), y1=py(28),
                   line=dict(color="#e0e3eb", width=1), fillcolor="white"))
# last price label box
shapes.append(dict(type="rect", xref="paper", yref="y", x0=px(1840), x1=px(1907),
                   y0=last_price - 0.42, y1=last_price + 0.42,
                   line=dict(color=DN, width=1), fillcolor="white"))
# TradingView logo glyph
shapes.append(dict(type="path", xref="paper", yref="paper",
                   path=pth([(10, 821), (16, 821), (16, 831), (13, 831), (13, 824), (10, 824)]),
                   fillcolor=TXT, line=dict(width=0)))
shapes.append(dict(type="circle", xref="paper", yref="paper", x0=px(16.5), x1=px(19.5), y0=py(821), y1=py(824),
                   fillcolor=TXT, line=dict(width=0)))
shapes.append(dict(type="path", xref="paper", yref="paper",
                   path=pth([(20, 821), (23, 821), (19, 831), (16.5, 831)]),
                   fillcolor=TXT, line=dict(width=0)))

# PDL support line (green arrow)
GREEN = "#4caf50"
shapes.append(dict(type="line", xref="x", yref="y", x0=pdl_index - 1.0, x1=arrow_end_index,
                   y0=pdl_level, y1=pdl_level, line=dict(color=GREEN, width=3)))
shapes.append(dict(type="path", xref="x", yref="y",
                   path=f"M {arrow_end_index - 8.5},{pdl_level + 1.1} L {arrow_end_index},{pdl_level} "
                        f"L {arrow_end_index - 8.5},{pdl_level - 1.1}",
                   line=dict(color=GREEN, width=3.5)))

# circles
shapes.append(dict(type="circle", xref="paper", yref="paper", x0=px(29), x1=px(65), y0=py(604), y1=py(641),
                   fillcolor="rgba(255,255,190,0.5)", line=dict(color="#8e24aa", width=2)))
shapes.append(dict(type="circle", xref="paper", yref="paper", x0=px(1249), x1=px(1288), y0=py(603), y1=py(647),
                   fillcolor="rgba(255,255,190,0.5)", line=dict(color="#8e24aa", width=2)))

# curved arrows
PURP = "#5e35b1"
shapes.append(dict(type="path", xref="paper", yref="paper",
                   path=f"M {px(165):.5f},{py(704):.5f} Q {px(86):.5f},{py(706):.5f} {px(55):.5f},{py(636):.5f}",
                   line=dict(color=PURP, width=2)))
shapes.append(dict(type="path", xref="paper", yref="paper",
                   path=pth([(53, 651), (55, 636), (67, 645)], close=False),
                   line=dict(color=PURP, width=2)))
shapes.append(dict(type="path", xref="paper", yref="paper",
                   path=(f"M {px(1065):.5f},{py(708):.5f} C {px(1110):.5f},{py(740):.5f} "
                         f"{px(1210):.5f},{py(738):.5f} {px(1258):.5f},{py(640):.5f}"),
                   line=dict(color=PURP, width=2)))
shapes.append(dict(type="path", xref="paper", yref="paper",
                   path=pth([(1246, 648), (1258, 640), (1259, 654)], close=False),
                   line=dict(color=PURP, width=2)))

# big translucent purple arrow
shapes.append(dict(type="path", xref="paper", yref="paper",
                   path=pth([(1288, 608), (1404, 416), (1380, 405), (1463, 372), (1457, 458), (1441, 437)]),
                   fillcolor="rgba(149,117,205,0.55)", line=dict(color="rgba(126,87,194,0.75)", width=2)))

annotations = []

def ann(text, x, y, size, color="#000000", xanchor="center", yanchor="middle", family="Roboto", weight=None):
    f = dict(family=family, size=size, color=color)
    if weight is not None:
        f["weight"] = weight
    annotations.append(dict(xref="paper", yref="paper", x=px(x), y=py(y), text=text, showarrow=False,
                            xanchor=xanchor, yanchor=yanchor, font=f))

G = "#089981"
title = ("CFDs on Gold (US$ / OZ), 5, TVC&nbsp;&nbsp;"
         f"O<span style='color:{G}'>2,611.090</span>&nbsp;&nbsp;"
         f"H<span style='color:{G}'>2,611.570</span>&nbsp;&nbsp;"
         f"L<span style='color:{G}'>2,610.745</span>&nbsp;&nbsp;"
         f"C<span style='color:{G}'>2,611.190</span>&nbsp;&nbsp;"
         f"<span style='color:{G}'>−0.010 (−0.00%)</span>")
ann(title, 15, 14, 12.6, TXT, xanchor="left")
ann("Trading Finder", 1561, 45, 30, "#6f6f6f", family="Lato", weight=300)
ann("USD", 1872, 16, 11, TXT)
annotations.append(dict(xref="paper", yref="y", x=px(1873), y=last_price, text="2,650.900", showarrow=False,
                        xanchor="center", yanchor="middle", font=dict(family="Roboto", size=11, color=DN)))
ann("TradingView", 25, 826, 11, TXT, xanchor="left")

ann("<b>önceki Günün En Düşük Seviyesi</b>", 306, 647, 32)
ann("<b>(PDL)</b>", 312, 687, 32)
ann("<b>Fiyat, önceki Günün En Düşük Seviyesine (PDL) ulaşıp</b>", 900, 662, 19)
ann("<b>yükselişe geçer</b>", 940, 693, 19)
ann("<b>Önceki Günün En Düşük Seviyesi (PDL) bir</b>", 1594, 599, 21)
ann("<b>destek seviyesi olarak kabul edilir</b>", 1594, 627, 21)

fig.update_layout(
    width=FW, height=FH,
    margin=dict(l=L, r=FW - R, t=T, b=FH - B, pad=0),
    paper_bgcolor="white", plot_bgcolor="white",
    showlegend=False,
    shapes=shapes, annotations=annotations,
    xaxis=dict(range=[-0.68, 618.35], tickmode="array", tickvals=tickvals, ticktext=tick_labels,
               showgrid=False, zeroline=False, showline=False, ticks="",
               tickfont=dict(family="Roboto", size=11, color=TXT),
               ticklabelstandoff=6, rangeslider=dict(visible=False), fixedrange=True),
    yaxis=dict(range=[2625.79, 2665.98], side="right", tickmode="array", tickvals=price_ticks,
               tickformat=",.3f", showgrid=False, zeroline=False, showline=False, ticks="",
               tickfont=dict(family="Roboto", size=11, color=TXT),
               ticklabelstandoff=6, fixedrange=True),
)

fig.write_html("out.html", config={"displayModeBar": False},
               post_script="document.body.style.margin='0';document.body.style.padding='0';")
